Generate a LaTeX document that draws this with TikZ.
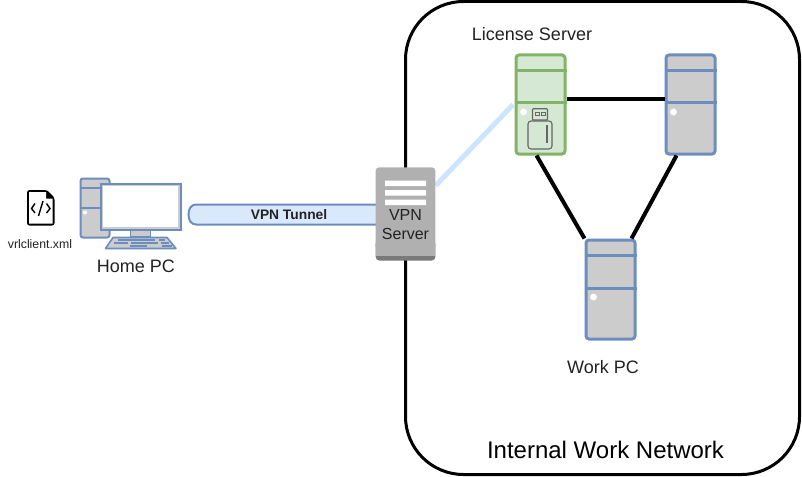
\documentclass[tikz,border=0pt]{standalone}
\usepackage{fontspec}
\setmainfont{Liberation Sans}
\usetikzlibrary{calc}
\definecolor{bluestroke}{HTML}{6C8EBF}
\definecolor{bluefill}{HTML}{DAE8FC}
\definecolor{greenstroke}{HTML}{82B366}
\definecolor{greenfill}{HTML}{D5E8D4}
\definecolor{towergray}{HTML}{CCCCCC}
\definecolor{srvgray}{HTML}{B0B0B0}
\definecolor{srvdark}{HTML}{7A7A7A}
\definecolor{linkblue}{HTML}{CCE5FF}
\definecolor{usbgray}{HTML}{666666}
\definecolor{txt}{HTML}{222222}
\tikzset{
  towerbox/.style={draw=bluestroke,fill=towergray,line width=3pt,rounded corners=3pt,minimum width=49pt,minimum height=99pt,inner sep=0pt},
  licbox/.style={towerbox,draw=greenstroke,fill=greenfill},
  link/.style={line width=4pt,black},
  divider/.style={line width=3pt},
  lbl/.style={inner sep=0pt,text=txt,align=center},
  usb/.style={draw=usbgray,line width=1.1pt},
}
\begin{document}
\begin{tikzpicture}[x=1pt,y=-1pt]
\useasboundingbox (0,0) rectangle (802,476);
% network
\node[draw=black,line width=3pt,rounded corners=58pt,minimum width=394pt,minimum height=473pt,inner sep=0pt] (net) at (602.5,238) {};
% servers
\node[licbox] (lic) at (540.5,104.5) {};
\node[towerbox] (srv) at (690.5,104.5) {};
\node[towerbox] (work) at (610.5,289.5) {};
\draw[link] ($(lic.east)+(0,-5)$) coordinate (a1) -- ($(srv.west)+(0,-5)$) coordinate (a2);
\draw[link] ($(lic.south west)+(22,0)$) coordinate (b1) -- ($(work.north west)+(0,0)$) coordinate (b2);
\draw[link] ($(srv.south west)+(12,0)$) coordinate (c1) -- ($(work.north east)+(-5,0)$) coordinate (c2);
% dividers
\foreach \n/\c in {lic/greenstroke,srv/bluestroke,work/bluestroke}{
  \draw[divider,draw=\c] ($(\n.north west)+(0,17.2)$) -- ($(\n.north east)+(0,17.2)$);
  \draw[divider,draw=\c] ($(\n.north west)+(0,49.5)$) -- ($(\n.north east)+(0,49.5)$);
  \fill[white] ($(\n.north west)+(9,58.5)$) circle (3.4pt);
}
% usb icon
\draw[usb,fill=greenfill,rounded corners=0.8pt] (532.5,108.8) rectangle (547.5,120);
\draw[usb,line width=.8pt] (535,112.5) rectangle (539,115) (541.5,112.5) rectangle (545,115);
\draw[usb,fill=greenfill,rounded corners=3pt] (528,121) rectangle (552,149);
\draw[usb,line width=1.3pt] (547,125) -- (547,143);
% light link
\node[inner sep=0pt,minimum width=60pt,minimum height=94pt] (vpn) at (405.5,213.5) {};
\draw[line width=5pt,linkblue] ($(vpn.east)+(0,-28)$) coordinate (d1) -- ($(lic.west)+(-1.3,0)$) coordinate (d2);
% tunnel
\path[draw=bluestroke,fill=bluefill,line width=2pt] (376,204.5) -- (196,204.5) .. controls (191,204.5) and (188.5,209) .. (188.5,214.5) .. controls (188.5,220) and (191,224.5) .. (196,224.5) -- (376,224.5);
\node[lbl,font=\fontsize{13.8}{16}\selectfont\bfseries] (tun) at (289,215) {VPN Tunnel};
% VPN server
\fill[srvdark,rounded corners=3.5pt] (375.7,240) rectangle (435.3,260.5);
\fill[srvgray,rounded corners=3.5pt] (375.7,167.3) rectangle (435.3,250);
\fill[srvgray] (375.7,245) rectangle (435.3,255.5);
\fill[white] (385,180.5) rectangle (426,186) (385,190) rectangle (426,195.5) (385,199.5) rectangle (426,205);
\node[lbl,font=\fontsize{16}{19}\selectfont] (vpnt) at (405.5,224.5) {VPN\\Server};
% home PC tower
\node[draw=bluestroke,fill=towergray,line width=2pt,rounded corners=2.5pt,minimum width=29pt,minimum height=59pt,inner sep=0pt] (tower) at (95,208) {};
\draw[bluestroke,line width=2pt] ($(tower.north west)+(0,10)$) -- ($(tower.north east)+(0,10)$);
\draw[bluestroke,line width=2pt] ($(tower.north west)+(0,30)$) -- ($(tower.north east)+(0,30)$);
\fill[white] ($(tower.north west)+(5.5,35)$) circle (2pt);
% stand, keyboard
\draw[bluestroke,fill=towergray,line width=1.6pt] (130.5,229) rectangle (150.5,237);
\draw[bluestroke,fill=towergray,line width=1.6pt,line join=round] (113,237.5) -- (167,237.5) -- (176,248.5) -- (105.5,248.5) -- cycle;
\draw[bluestroke,line width=1.5pt] (118,240) -- (155,240) (159,240) -- (165,240)
  (114,243) -- (128,243) (131,243) -- (158,243) (161,243) -- (169,243)
  (130,246) -- (147,246) (162,246) -- (172,246);
% monitor
\node[draw=bluestroke,fill=towergray,line width=2pt,minimum width=80pt,minimum height=46pt,inner sep=0pt] (mon) at (140.5,206.5) {};
\fill[white] (103,186) rectangle (178,227);
% file icon
\fill[black,rounded corners=2.5pt] (27,190) -- (47,190) -- (54.5,197.5) -- (54.5,225.5) -- (27,225.5) -- cycle;
\fill[white] (29,192) -- (46,192) -- (46,198.5) -- (52.5,198.5) -- (52.5,223.5) -- (29,223.5) -- cycle;
\draw[black,line width=1.4pt] (35,203.5) -- (31.5,208.5) -- (35,213) (46.5,203.5) -- (50,208.5) -- (46.5,213) (43,201) -- (38.5,216);
% labels
\node[lbl,font=\fontsize{12.3}{14}\selectfont] (xml) at (40,244) {vrlclient.xml};
\node[lbl,font=\fontsize{18}{21}\selectfont] (home) at (136,266) {Home PC};
\node[lbl,font=\fontsize{18}{21}\selectfont] (lict) at (532,34) {License Server};
\node[lbl,font=\fontsize{18}{21}\selectfont] (workt) at (603,367) {Work PC};
\node[lbl,font=\fontsize{24}{28}\selectfont,text=black] (nett) at (605.5,450) {Internal Work Network};
\end{tikzpicture}
\end{document}
